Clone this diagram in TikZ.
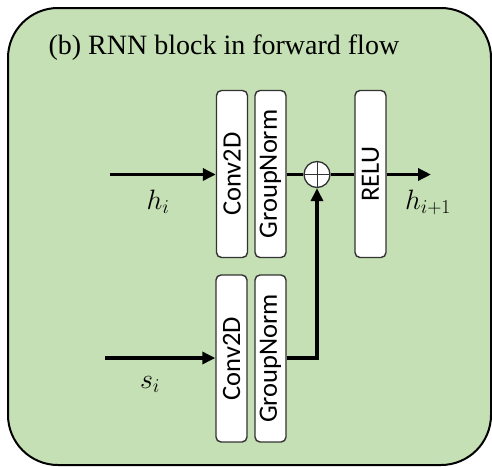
\RequirePackage{fix-cm}
\documentclass[tikz,border=0pt]{standalone}
\usepackage{fontspec}
\setmainfont{Liberation Serif}
\newfontfamily\layerfont{Carlito}
\usetikzlibrary{arrows.meta}
\definecolor{blockgreen}{RGB}{197,224,180}
\tikzset{layer/.style={draw=black!80,fill=white,line width=1.4pt,rounded corners=5pt,
    minimum width=31pt,minimum height=167pt,inner sep=0pt,
    font=\layerfont\fontsize{26.5}{28}\selectfont},
  flow/.style={line width=3.3pt,-{Triangle[length=13pt,width=12pt]}},
  wire/.style={line width=3.3pt},
  vec/.style={font=\fontsize{28}{30}\selectfont,anchor=base}}

\begin{document}
\begin{tikzpicture}[x=1pt,y=-1pt]
                  \useasboundingbox (0,0) rectangle (492,466);
                  \draw[fill=blockgreen,line width=2pt,rounded corners=50pt] (8,8) rectangle (491,465);
                  \node[anchor=base west,font=\fontsize{28}{30}\selectfont] (title) at (45,54) {(b) RNN block in forward flow};
                  \node[layer] (conva) at (232,174) {\rotatebox{90}{Conv2D}};
                  \node[layer] (norma) at (270.5,174) {\rotatebox{90}{GroupNorm}};
                  \node[layer] (relu) at (370.5,174) {\rotatebox{90}{RELU}};
                  \node[layer] (convb) at (231.5,358.5) {\rotatebox{90}{Conv2D}};
                  \node[layer] (normb) at (270.5,358.5) {\rotatebox{90}{GroupNorm}};
                  \node[circle,draw=black!80,fill=white,line width=1.3pt,minimum size=26pt,inner sep=0pt,
                    path picture={\draw[line width=1pt] (path picture bounding box.north) -- (path picture bounding box.south)
                      (path picture bounding box.west) -- (path picture bounding box.east);}] (sum) at (317,174.5) {};
                  \coordinate (hin) at (110,174.5);
                  \coordinate (sin) at (105,358);
                  \coordinate (hout) at (431,174.5);
                  \draw[flow] (hin) -- (conva.west |- hin);
                  \draw[flow] (sin) -- (convb.west |- sin);
                  \draw[wire] (norma.east |- sum) -- (sum.west);
                  \draw[wire] (sum.east) -- (relu.west |- sum);
                  \draw[flow] (relu.east |- hout) -- (hout);
                  \draw[flow] (normb.east |- sin) -| (sum.south);
                  \node[vec] (hilabel) at (158,209) {$h_i$};
                  \node[vec] (silabel) at (150,388) {$s_i$};
                  \node[vec] (holabel) at (428,209) {$h_{i+1}$};
              \end{tikzpicture}
\end{document}
